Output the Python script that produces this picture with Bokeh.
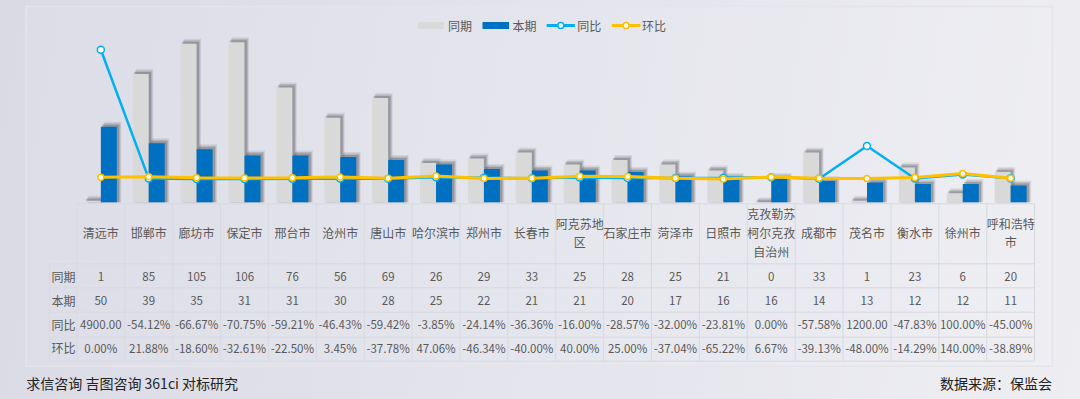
import numpy as np
from bokeh.plotting import figure
from bokeh.models import Range1d
from bokeh.core.properties import value
from bokeh.embed import file_html
from bokeh.resources import INLINE

# ---------------- data ----------------
cities = ["清远市", "邯郸市", "廊坊市", "保定市", "邢台市", "沧州市", "唐山市", "哈尔滨市",
          "郑州市", "长春市", "阿克苏地区", "石家庄市", "菏泽市", "日照市",
          "克孜勒苏柯尔克孜自治州", "成都市", "茂名市", "衡水市", "徐州市", "呼和浩特市"]
prev_period = [1, 85, 105, 106, 76, 56, 69, 26, 29, 33, 25, 28, 25, 21, 0, 33, 1, 23, 6, 20]
curr_period = [50, 39, 35, 31, 31, 30, 28, 25, 22, 21, 21, 20, 17, 16, 16, 14, 13, 12, 12, 11]
yoy_pct = [4900.00, -54.12, -66.67, -70.75, -59.21, -46.43, -59.42, -3.85, -24.14, -36.36,
           -16.00, -28.57, -32.00, -23.81, 0.00, -57.58, 1200.00, -47.83, 100.00, -45.00]
mom_pct = [0.00, 21.88, -18.60, -32.61, -22.50, 3.45, -37.78, 47.06, -46.34, -40.00,
           40.00, 25.00, -37.04, -65.22, 6.67, -39.13, -48.00, -14.29, 140.00, -38.89]
series_names = ["同期", "本期", "同比", "环比"]
footer_left = "求信咨询 吉图咨询 361ci 对标研究"
footer_right = "数据来源：保监会"

# ---------------- styles ----------------
C_PREV = "#d9d9d9"
C_CURR = "#0070c0"
C_YOY = "#00b0f0"
C_MOM = "#ffc000"
TXT = "#595959"
GRID = "#d8d9e0"
FONT = value("Noto Sans CJK SC")

W, H = 1080, 399
# main range = page pixel coordinates (y flipped)
p = figure(width=W, height=H, output_backend="svg", toolbar_location=None,
           x_range=Range1d(0, W), y_range=Range1d(H, 0),
           x_axis_location=None, y_axis_location=None, min_border=0,
           background_fill_alpha=0, border_fill_alpha=0, outline_line_color=None)
p.grid.visible = False

# category / value scales
col0, colw = 76.4, 47.885
cnt0, cntpx = 201.7, 1.5094
pct0, pctpx = 176.7, 0.0260
p.extra_x_ranges = {"cat": Range1d((0 - col0) / colw, (W - col0) / colw)}
p.extra_y_ranges = {
    "cnt": Range1d(-(H - cnt0) / cntpx, cnt0 / cntpx),
    "pct": Range1d(-(H - pct0) / pctpx, pct0 / pctpx),
}

n = len(cities)
xc = np.arange(n) + 0.5
bw = 16 / colw
off = bw / 2

# panel box
p.quad(left=[25.5], right=[1052], top=[6], bottom=[365.7],
       fill_color="white", fill_alpha=0.08, line_color="#e4e4ea", line_width=1.5)

# bars with soft shadows
def shadowed_bars(xs, tops, color):
    for dxp, dyp, a in [(4.0, 5.0, 0.10), (3.0, 3.5, 0.18), (1.8, 2.0, 0.25)]:
        p.vbar(x=xs + dxp / colw, width=bw + 1.0 / colw, top=np.array(tops) + dyp / cntpx,
               bottom=0, fill_color="#3a3a40", fill_alpha=a, line_color=None,
               x_range_name="cat", y_range_name="cnt")
    p.vbar(x=xs, width=bw, top=tops, bottom=0, fill_color=color, line_color=None,
           x_range_name="cat", y_range_name="cnt")

shadowed_bars(xc - off, prev_period, C_PREV)
shadowed_bars(xc + off, curr_period, C_CURR)

# lines
p.line(xc, yoy_pct, line_color=C_YOY, line_width=2.5, x_range_name="cat", y_range_name="pct")
p.scatter(xc, yoy_pct, size=7, fill_color="white", line_color=C_YOY, line_width=1.5,
          x_range_name="cat", y_range_name="pct")
p.line(xc, mom_pct, line_color=C_MOM, line_width=3, x_range_name="cat", y_range_name="pct")
p.scatter(xc, mom_pct, size=6, fill_color="white", line_color=C_MOM, line_width=1.5,
          x_range_name="cat", y_range_name="pct")

# legend (manual)
ly = 25
p.quad(left=[417.4, 482.0], right=[443.2, 508.6], top=[ly - 3.5] * 2, bottom=[ly + 3.5] * 2,
       fill_color=[C_PREV, C_CURR], line_color=None)
for x0, x1, c in [(546.2, 574.4, C_YOY), (611.3, 639.9, C_MOM)]:
    p.line([x0, x1], [ly, ly], line_color=c, line_width=3)
    p.scatter([(x0 + x1) / 2], [ly], size=6, fill_color="white", line_color=c, line_width=1.5)
p.text(x=[447.5, 512.0, 576.8, 641.6], y=[ly] * 4, text=series_names,
       text_font=FONT, text_font_size="12px", text_color=TXT,
       text_align="left", text_baseline="middle")

# table grid
rows_y = [263.3, 287.3, 311.7, 336.7, 360.7]
tab_l, tab_r = 49.0, col0 + n * colw
p.segment(x0=[col0], y0=[203.3], x1=[tab_r], y1=[203.3], line_color=GRID, line_width=1)
p.segment(x0=[tab_l] * len(rows_y), y0=rows_y, x1=[tab_r] * len(rows_y), y1=rows_y,
          line_color=GRID, line_width=1)
vx = [col0 + i * colw for i in range(n + 1)]
p.segment(x0=vx, y0=[203.3] * len(vx), x1=vx, y1=[360.7] * len(vx), line_color=GRID, line_width=1)
p.segment(x0=[tab_l], y0=[263.3], x1=[tab_l], y1=[360.7], line_color=GRID, line_width=1)

# table header (wrap names at 4 chars)
def wrap(s, k=4):
    return "\n".join(s[i:i + k] for i in range(0, len(s), k))

p.text(x=xc, y=[232.0] * n, text=[wrap(c) for c in cities], x_range_name="cat",
       text_font=FONT, text_font_size="12px", text_color=TXT, text_align="center",
       text_baseline="middle", text_line_height=1.1)

# table body
def pct_str(v):
    return f"{v:.2f}%"[:7]

row_text_y = [275.5, 299.5, 323.5, 347.0]
rows = [[str(v) for v in prev_period], [str(v) for v in curr_period],
        [pct_str(v) for v in yoy_pct], [pct_str(v) for v in mom_pct]]
for ry, vals in zip(row_text_y, rows):
    p.text(x=xc, y=[ry] * n, text=vals, x_range_name="cat",
           text_font=FONT, text_font_size="11.5px", text_color=TXT, text_align="center",
           text_baseline="middle")
p.text(x=[51.0] * 4, y=row_text_y, text=series_names, text_font=FONT, text_font_size="12px",
       text_color=TXT, text_align="left", text_baseline="middle")

# footer
p.text(x=[25.8], y=[382.3], text=[footer_left], text_font=FONT, text_font_size="14px",
       text_color="#222222", text_align="left", text_baseline="middle")
p.text(x=[1051.5], y=[382.3], text=[footer_right], text_font=FONT, text_font_size="14px",
       text_color="#222222", text_align="right", text_baseline="middle")

html = file_html(p, INLINE)
html = html.replace("</head>",
                    "<style>html{min-height:100%;background:linear-gradient(100deg,#d9dae4 0%,#e3e4ec 50%,#eeeef2 100%);}"
                    "body{background:transparent;}</style></head>", 1)
open("out.html", "w").write(html)
